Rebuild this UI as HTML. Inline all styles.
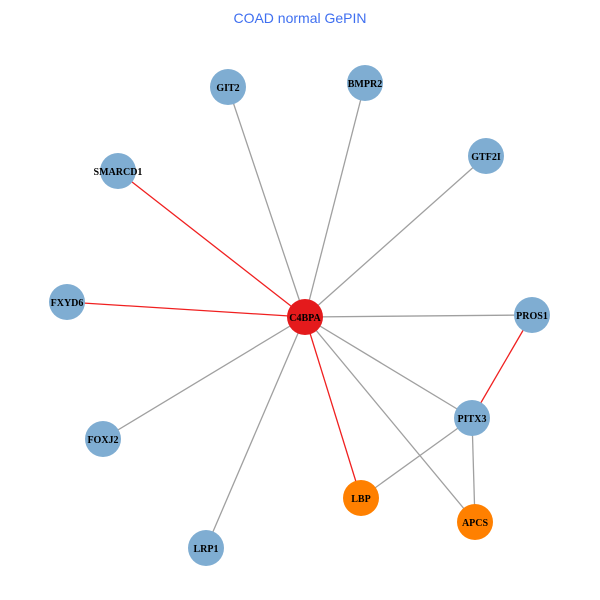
<!DOCTYPE html>
<html><head><style>body{margin:0;background:#fff}svg{display:block}</style></head>
<body>
<svg width="600" height="600" viewBox="0 0 600 600" xmlns="http://www.w3.org/2000/svg">
<rect width="600" height="600" fill="#fff"/>
<text x="300" y="23" text-anchor="middle" font-family="Liberation Sans, sans-serif" font-size="14" fill="#3f6ff0">COAD normal GePIN</text>
<g stroke-width="1.3">
<line x1="305" y1="317" x2="228" y2="87" stroke="#a0a0a0"/>
<line x1="305" y1="317" x2="365" y2="83" stroke="#a0a0a0"/>
<line x1="305" y1="317" x2="486" y2="156" stroke="#a0a0a0"/>
<line x1="305" y1="317" x2="118" y2="171" stroke="#f02020"/>
<line x1="305" y1="317" x2="67" y2="302" stroke="#f02020"/>
<line x1="305" y1="317" x2="532" y2="315" stroke="#a0a0a0"/>
<line x1="305" y1="317" x2="472" y2="418" stroke="#a0a0a0"/>
<line x1="305" y1="317" x2="103" y2="439" stroke="#a0a0a0"/>
<line x1="305" y1="317" x2="361" y2="498" stroke="#f02020"/>
<line x1="305" y1="317" x2="475" y2="522" stroke="#a0a0a0"/>
<line x1="305" y1="317" x2="206" y2="548" stroke="#a0a0a0"/>
<line x1="532" y1="315" x2="472" y2="418" stroke="#f02020"/>
<line x1="472" y1="418" x2="361" y2="498" stroke="#a0a0a0"/>
<line x1="472" y1="418" x2="475" y2="522" stroke="#a0a0a0"/>
</g>
<g fill="#7fadd2">
<circle cx="228" cy="87" r="18"/><circle cx="365" cy="83" r="18"/><circle cx="486" cy="156" r="18"/>
<circle cx="118" cy="171" r="18"/><circle cx="67" cy="302" r="18"/><circle cx="532" cy="315" r="18"/>
<circle cx="472" cy="418" r="18"/><circle cx="103" cy="439" r="18"/><circle cx="206" cy="548" r="18"/>
</g>
<circle cx="305" cy="317" r="18" fill="#e41a1c"/>
<circle cx="361" cy="498" r="18" fill="#ff8000"/>
<circle cx="475" cy="522" r="18" fill="#ff8000"/>
<g font-family="Liberation Serif, serif" font-size="10" font-weight="bold" text-anchor="middle" fill="#000">
<text x="228" y="91">GIT2</text><text x="365" y="87">BMPR2</text><text x="486" y="160">GTF2I</text>
<text x="118" y="175">SMARCD1</text><text x="67" y="306">FXYD6</text><text x="532" y="319">PROS1</text>
<text x="472" y="422">PITX3</text><text x="103" y="443">FOXJ2</text><text x="206" y="552">LRP1</text>
<text x="305" y="321">C4BPA</text><text x="361" y="502">LBP</text><text x="475" y="526">APCS</text>
</g>
</svg>
</body></html>
